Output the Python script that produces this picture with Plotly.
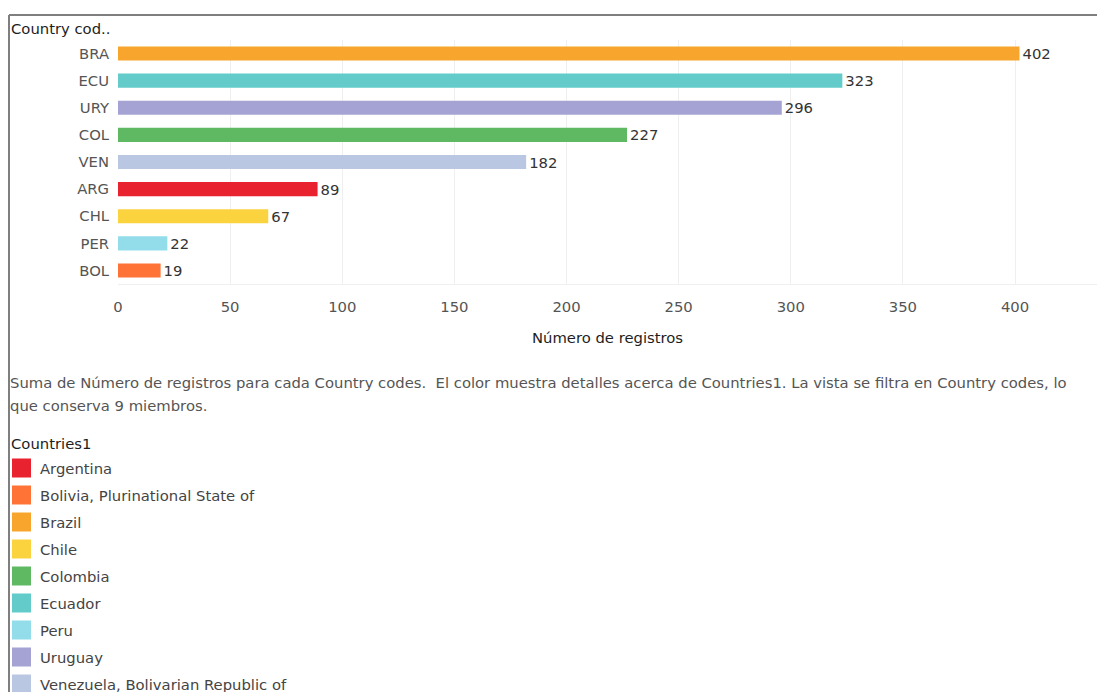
import plotly.graph_objects as go

# ---- data ----
codes = ["BRA", "ECU", "URY", "COL", "VEN", "ARG", "CHL", "PER", "BOL"]
counts = [402, 323, 296, 227, 182, 89, 67, 22, 19]
country_of_code = {
    "ARG": "Argentina",
    "BOL": "Bolivia, Plurinational State of",
    "BRA": "Brazil",
    "CHL": "Chile",
    "COL": "Colombia",
    "ECU": "Ecuador",
    "PER": "Peru",
    "URY": "Uruguay",
    "VEN": "Venezuela, Bolivarian Republic of",
}
legend_order = ["ARG", "BOL", "BRA", "CHL", "COL", "ECU", "PER", "URY", "VEN"]
color_of_code = {
    "ARG": "#E8222F",
    "BOL": "#FF7337",
    "BRA": "#F8A52D",
    "CHL": "#FAD33F",
    "COL": "#5EB962",
    "ECU": "#63CBC9",
    "PER": "#93DDEA",
    "URY": "#A5A3D4",
    "VEN": "#BAC7E2",
}
x_ticks = [0, 50, 100, 150, 200, 250, 300, 350, 400]

# ---- layout geometry (pixels) ----
W, H = 1097, 692
L, R, T, B = 118, 0, 40, 408
PW = W - L - R
PH = H - T - B


def px(xp):
    return (xp - L) / PW


def py(yp):
    return (H - B - yp) / PH


FONT = "DejaVu Sans"
FS = 14.8
fig = go.Figure()
fig.add_trace(go.Bar(
    y=codes,
    x=counts,
    orientation="h",
    marker=dict(color=[color_of_code[c] for c in codes], line=dict(width=0)),
    width=0.52,
    text=[str(v) for v in counts],
    textposition="outside",
    constraintext="none",
    textfont=dict(family=FONT, size=FS, color="#333333"),
    cliponaxis=False,
    showlegend=False,
    hoverinfo="x+y",
))

shapes = []
annotations = []

# border lines (frame of worksheet)
shapes.append(dict(type="line", xref="paper", yref="paper",
                   x0=px(9), x1=px(W + 5), y0=py(15), y1=py(15),
                   line=dict(color="#7F7F7F", width=2)))
shapes.append(dict(type="line", xref="paper", yref="paper",
                   x0=px(9), x1=px(9), y0=py(15), y1=py(H + 5),
                   line=dict(color="#7F7F7F", width=2)))

# header
annotations.append(dict(text="Country cod..", xref="paper", yref="paper",
                        x=px(9), y=py(29), xanchor="left", yanchor="middle",
                        showarrow=False, font=dict(family=FONT, size=FS, color="#1E1E1E")))

# caption
annotations.append(dict(
    text="Suma de Número de registros para cada Country codes.  El color muestra detalles acerca de Countries1. La vista se filtra en Country codes, lo",
    xref="paper", yref="paper", x=px(8), y=py(382), xanchor="left", yanchor="middle",
    showarrow=False, font=dict(family=FONT, size=FS, color="#555555")))
annotations.append(dict(
    text="que conserva 9 miembros.",
    xref="paper", yref="paper", x=px(8), y=py(405), xanchor="left", yanchor="middle",
    showarrow=False, font=dict(family=FONT, size=FS, color="#555555")))

# legend
annotations.append(dict(text="Countries1", xref="paper", yref="paper",
                        x=px(9), y=py(443), xanchor="left", yanchor="middle",
                        showarrow=False, font=dict(family=FONT, size=FS, color="#1E1E1E")))
for i, c in enumerate(legend_order):
    yc = 468 + 27 * i
    shapes.append(dict(type="rect", xref="paper", yref="paper",
                       x0=px(12), x1=px(31), y0=py(yc - 9.5), y1=py(yc + 9.5),
                       fillcolor=color_of_code[c], line=dict(width=0)))
    annotations.append(dict(text=country_of_code[c], xref="paper", yref="paper",
                            x=px(38), y=py(yc), xanchor="left", yanchor="middle",
                            showarrow=False, font=dict(family=FONT, size=FS, color="#444444")))

fig.update_layout(
    width=W, height=H,
    margin=dict(l=L, r=R, t=T, b=B, pad=0),
    paper_bgcolor="white", plot_bgcolor="white",
    font=dict(family=FONT, size=FS, color="#555555"),
    bargap=0.48,
    shapes=shapes,
    annotations=annotations,
    xaxis=dict(
        range=[0, PW / (897 / 400)],
        tickvals=x_ticks,
        showgrid=True, gridcolor="#EFEFEF", gridwidth=1,
        zeroline=False,
        showline=True, linecolor="#EFEFEF", linewidth=1,
        ticks="outside", ticklen=9, tickcolor="rgba(0,0,0,0)",
        tickfont=dict(family=FONT, size=FS, color="#555555"),
        title=dict(text="Número de registros", standoff=18,
                   font=dict(family=FONT, size=FS, color="#1E1E1E")),
        fixedrange=True,
    ),
    yaxis=dict(
        categoryorder="array", categoryarray=codes, autorange="reversed",
        showgrid=False, zeroline=False, showline=False,
        ticks="outside", ticklen=5, tickcolor="rgba(0,0,0,0)",
        tickfont=dict(family=FONT, size=FS, color="#555555"),
        fixedrange=True,
    ),
)

fig.write_html("out.html", config={"displayModeBar": False},
               post_script="document.body.style.margin='0';")
